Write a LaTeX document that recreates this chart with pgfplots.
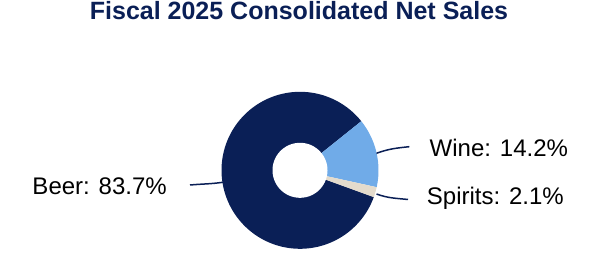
\documentclass[border=0pt]{standalone}
\usepackage{pgfplots}
\pgfplotsset{compat=1.18}
\usepackage{fontspec}
\setmainfont{Liberation Sans}
\definecolor{navy}{RGB}{10,31,86}
\definecolor{wineblue}{RGB}{112,171,232}
\definecolor{beige}{RGB}{228,219,204}
\begin{document}
\begin{tikzpicture}
\def\vBeer{83.7}\def\vWine{14.2}\def\vSpirits{2.1}
\pgfmathsetmacro\aStart{38.7}
\pgfmathsetmacro\aWineEnd{\aStart-3.6*\vWine}
\pgfmathsetmacro\aSpEnd{\aWineEnd-3.6*\vSpirits}
\pgfmathsetmacro\aBeerEnd{\aStart+3.6*\vBeer}
\def\R{78.5}\def\r{27.5}
\begin{axis}[name=ax, x=1pt, y=1pt, xmin=-300, xmax=300, ymin=-109.7, ymax=170.3, hide axis, clip=false]
\addplot[fill=navy, draw=none, domain=\aStart:\aBeerEnd, samples=150] ({\R*cos(x)},{\R*sin(x)}) -- (axis cs:0,0) -- cycle;
\addplot[fill=wineblue, draw=none, domain=\aWineEnd:\aStart, samples=40] ({\R*cos(x)},{\R*sin(x)}) -- (axis cs:0,0) -- cycle;
\addplot[fill=beige, draw=none, domain=\aSpEnd:\aWineEnd, samples=10] ({\R*cos(x)},{\R*sin(x)}) -- (axis cs:0,0) -- cycle;
\addplot[fill=white, draw=none, domain=0:360, samples=100] ({\r*cos(x)},{\r*sin(x)}) -- cycle;
% leader lines
\draw[navy, line width=1.5pt] (axis cs:-110,-14.7) to[out=5,in=188] (axis cs:-77.2,-12);
\draw[navy, line width=1.5pt] (axis cs:76.5,17) to[out=20,in=186] (axis cs:109.3,23.6);
\draw[navy, line width=1.5pt] (axis cs:76.5,-23.7) to[out=-20,in=174] (axis cs:108,-29.2);
% labels
\node[anchor=base east, inner sep=0pt, font=\fontsize{24}{28}\selectfont] at (axis cs:-133,-24.7) {Beer: 83.7\%};
\node[anchor=base west, inner sep=0pt, font=\fontsize{24}{28}\selectfont] at (axis cs:129.5,13.3) {Wine: 14.2\%};
\node[anchor=base west, inner sep=0pt, font=\fontsize{24}{28}\selectfont] at (axis cs:126.7,-34.7) {Spirits: 2.1\%};
\node[anchor=base, inner sep=0pt, text=navy, font=\fontsize{25}{30}\selectfont\bfseries] at (axis cs:-1,150.3) {Fiscal 2025 Consolidated Net Sales};
\end{axis}
\pgfresetboundingbox
\path[use as bounding box] (ax.south west) rectangle (ax.north east);
\end{tikzpicture}
\end{document}
